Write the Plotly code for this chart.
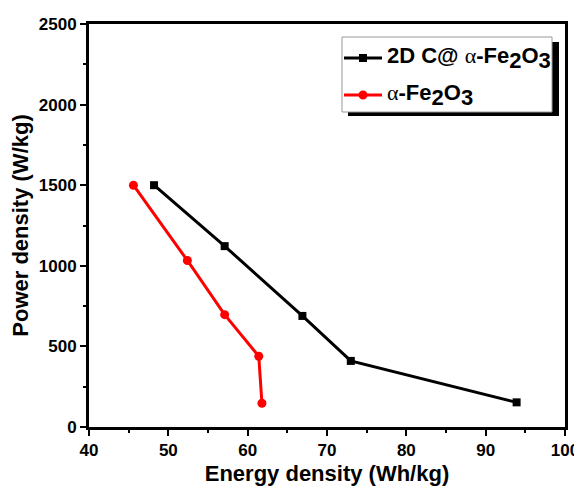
import plotly.graph_objects as go

# Data
c_fe2o3_energy = [48.2, 57.1, 66.9, 73.0, 93.9]
c_fe2o3_power = [1500, 1122, 689, 410, 153]
fe2o3_energy = [45.6, 52.4, 57.1, 61.4, 61.8]
fe2o3_power = [1500, 1033, 697, 439, 147]

ALPHA = "<span style='font-family:Liberation Serif;font-weight:normal'>α</span>"
SUB = "<sub><span style='font-size:22px'>{}</span></sub>"
series_names = ["<b>2D C@ </b>" + ALPHA + "<b>-Fe" + SUB.format("2") + "O" + SUB.format("3") + "</b>",
                ALPHA + "<b>-Fe" + SUB.format("2") + "O" + SUB.format("3") + "</b>"]
series_colors = ["black", "#ff0000"]
series_symbols = ["square", "circle"]

x_tickvals = [40, 50, 60, 70, 80, 90, 100]
y_tickvals = [0, 500, 1000, 1500, 2000, 2500]

W, H = 566, 478
ML, MR, MT, MB = 81, 9, 16, 59
OFF = 8  # page body margin


def px(X):
    return (X - OFF - ML) / (W - ML - MR)


def py(Y):
    return 1 - (Y - OFF - MT) / (H - MT - MB)


fig = go.Figure()
fig.add_trace(go.Scatter(
    x=c_fe2o3_energy, y=c_fe2o3_power, mode="lines+markers", name=series_names[0],
    line=dict(color=series_colors[0], width=3),
    marker=dict(symbol="square", size=8, color=series_colors[0]), showlegend=False))
fig.add_trace(go.Scatter(
    x=fe2o3_energy, y=fe2o3_power, mode="lines+markers", name=series_names[1],
    line=dict(color=series_colors[1], width=3),
    marker=dict(symbol="circle", size=9, color=series_colors[1]), showlegend=False))

tickfont = dict(family="Liberation Sans", size=17, color="black", weight="bold")
axis_common = dict(
    showline=True, linecolor="black", linewidth=3, mirror=True,
    ticks="outside", ticklen=6, tickwidth=2, tickcolor="black",
    showgrid=False, zeroline=False, tickfont=tickfont, automargin=False,
    ticklabeloverflow="allow",
)

fig.update_xaxes(range=[40, 100], tickvals=x_tickvals,
                 ticktext=["<b>%d</b>" % v for v in x_tickvals],
                 minor=dict(ticks="outside", ticklen=3, tickwidth=2, dtick=5, tickcolor="black"),
                 title=dict(text="<b>Energy density (Wh/kg)</b>", standoff=12,
                            font=dict(family="Liberation Sans", size=22, color="black")),
                 **axis_common)
fig.update_yaxes(range=[0, 2500], tickvals=y_tickvals,
                 ticktext=["<b>%d</b>" % v for v in y_tickvals],
                 minor=dict(ticks="outside", ticklen=3, tickwidth=2, dtick=250, tickcolor="black"),
                 title=dict(text="<b>Power density (W/kg)</b>", standoff=6,
                            font=dict(family="Liberation Sans", size=22, color="black")),
                 **axis_common)

# Custom legend (box with drop shadow, as in the reference)
shapes = [
    dict(type="rect", xref="paper", yref="paper", x0=px(348), x1=px(559), y0=py(116), y1=py(42),
         fillcolor="black", line=dict(width=0), layer="above"),
    dict(type="rect", xref="paper", yref="paper", x0=px(342), x1=px(552), y0=py(112), y1=py(37),
         fillcolor="white", line=dict(color="#999999", width=1), layer="above"),
]
annotations = []
rows_y = [58, 95]
for i in range(2):
    yy = py(rows_y[i])
    shapes.append(dict(type="line", xref="paper", yref="paper", x0=px(344), x1=px(382), y0=yy, y1=yy,
                       line=dict(color=series_colors[i], width=3), layer="above"))
    shapes.append(dict(type="rect" if series_symbols[i] == "square" else "circle",
                       xref="paper", yref="paper", xsizemode="pixel", ysizemode="pixel",
                       xanchor=px(363), yanchor=yy,
                       x0=-4 if i == 0 else -4.5, x1=4 if i == 0 else 4.5,
                       y0=-4 if i == 0 else -4.5, y1=4 if i == 0 else 4.5,
                       fillcolor=series_colors[i], line=dict(width=0), layer="above"))
    annotations.append(dict(xref="paper", yref="paper", x=px(385), y=yy, xanchor="left", yanchor="middle",
                            text=series_names[i], showarrow=False,
                            font=dict(family="Liberation Sans", size=22, color="black")))

fig.update_layout(
    width=W, height=H,
    margin=dict(l=ML, r=MR, t=MT, b=MB),
    plot_bgcolor="white", paper_bgcolor="white",
    showlegend=False,
    shapes=shapes, annotations=annotations,
)

fig.write_html("out.html",
               post_script="document.querySelectorAll('.main-svg').forEach(function(s){s.style.overflow='visible';});")
